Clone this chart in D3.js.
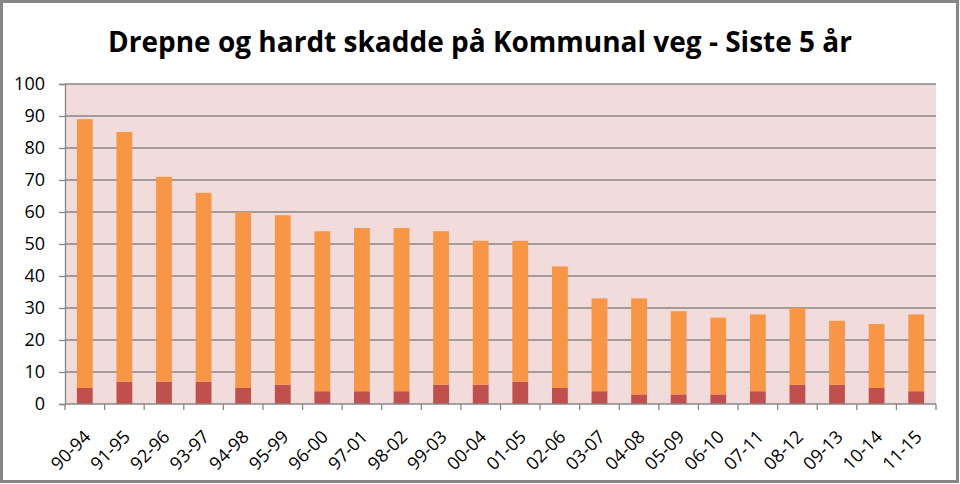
<!DOCTYPE html>
<html><head><meta charset="utf-8">
<script src="https://cdn.jsdelivr.net/npm/d3@7"></script>
<style>body{margin:0;background:#fff}svg{display:block}</style>
</head><body><svg id="c" width="960" height="484"></svg>
<script>
const categories = ["90-94","91-95","92-96","93-97","94-98","95-99","96-00","97-01","98-02","99-03","00-04","01-05","02-06","03-07","04-08","05-09","06-10","07-11","08-12","09-13","10-14","11-15"];
const drepne = [5,7,7,7,5,6,4,4,4,6,6,7,5,4,3,3,3,4,6,6,5,4];
const hardtSkadde = [84,78,64,59,55,53,50,51,51,48,45,44,38,29,30,26,24,24,24,20,20,24];
const yTicks = [0,10,20,30,40,50,60,70,80,90,100];
const title = "Drepne og hardt skadde på Kommunal veg - Siste 5 år";

const svg = d3.select("#c");
const W = 960, H = 484;
const m = {left: 65, right: 24, top: 84, bottom: 80};
const iw = W - m.left - m.right, ih = H - m.top - m.bottom;

svg.append("rect").attr("x",1.5).attr("y",1.5).attr("width",W-4).attr("height",H-4)
  .attr("fill","#fff").attr("stroke","#868686").attr("stroke-width",3);

svg.append("text").attr("x",480).attr("y",52).attr("text-anchor","middle")
  .attr("font-family","'Open Sans', sans-serif").attr("font-weight","bold").attr("font-size",28)
  .attr("fill","#000").text(title);

const g = svg.append("g").attr("transform",`translate(${m.left},${m.top})`);
const x = d3.scaleBand().domain(categories).range([0,iw]).paddingInner(0.6).paddingOuter(0.3);
const y = d3.scaleLinear().domain([0,100]).range([ih,0]);

g.append("rect").attr("width",iw).attr("height",ih).attr("fill","#F2DCDB");

g.append("g").selectAll("line").data(yTicks.slice(1)).join("line")
  .attr("x1",0).attr("x2",iw).attr("y1",d=>y(d)).attr("y2",d=>y(d))
  .attr("stroke","#868686").attr("stroke-width",1.3);

const data = categories.map((c,i)=>({c, d: drepne[i], h: hardtSkadde[i]}));
const stack = d3.stack().keys(["d","h"])(data);
const colors = {d:"#C0504D", h:"#F79646"};
g.append("g").selectAll("g").data(stack).join("g").attr("fill",s=>colors[s.key])
  .selectAll("rect").data(s=>s).join("rect")
  .attr("x",d=>x(d.data.c)).attr("width",x.bandwidth())
  .attr("y",d=>y(d[1])).attr("height",d=>y(d[0])-y(d[1]));

// y axis
const ya = g.append("g").call(d3.axisLeft(y).tickValues(yTicks).tickSize(6).tickPadding(14));
ya.select(".domain").attr("stroke","#868686").attr("stroke-width",1.3);
ya.selectAll(".tick line").attr("stroke","#868686").attr("stroke-width",1.3);
ya.selectAll("text").attr("font-family","'Open Sans', sans-serif").attr("font-size",18).attr("fill","#000");

// x axis
const xa = g.append("g").attr("transform",`translate(0,${ih})`);
xa.append("line").attr("x1",0).attr("x2",iw).attr("stroke","#868686").attr("stroke-width",1.3);
const bounds = d3.range(categories.length+1).map(i=> i*iw/categories.length);
xa.selectAll("line.tk").data(bounds).join("line").attr("class","tk")
  .attr("x1",d=>d).attr("x2",d=>d).attr("y1",0).attr("y2",6)
  .attr("stroke","#868686").attr("stroke-width",1.3);
xa.selectAll("text").data(categories).join("text")
  .attr("transform",c=>`translate(${x(c)+x.bandwidth()/2-2},${25}) rotate(-45)`)
  .attr("text-anchor","end").attr("dy","0.7em")
  .attr("font-family","'Open Sans', sans-serif").attr("font-size",18).attr("fill","#000").text(c=>c);
</script></body></html>
